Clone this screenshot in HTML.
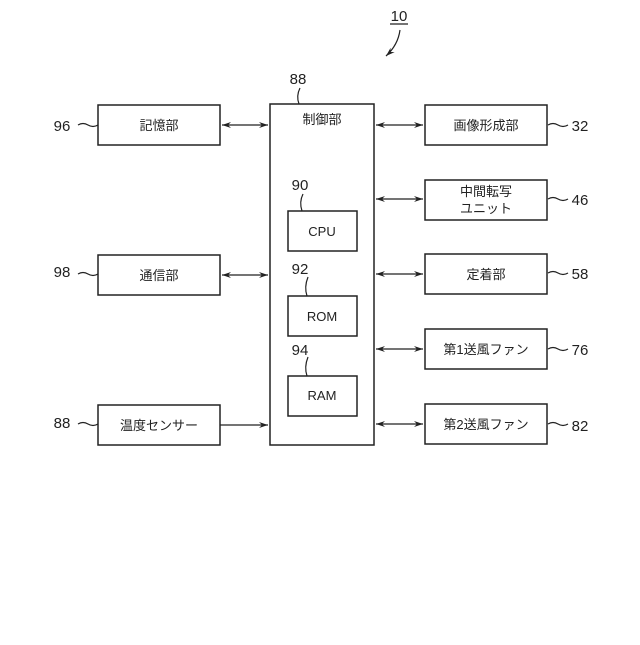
<!DOCTYPE html>
<html><head><meta charset="utf-8"><style>
html,body{margin:0;padding:0;background:#fff}
svg text{font-family:"Liberation Sans","Noto Sans CJK JP",sans-serif;fill:#222}
</style></head><body>
<svg width="640" height="640" viewBox="0 0 640 640" xmlns="http://www.w3.org/2000/svg">
<defs>
<marker id="a" markerWidth="10" markerHeight="8" refX="9" refY="4" orient="auto-start-reverse" markerUnits="userSpaceOnUse">
<path d="M0,1 L9,4 L0,7 L3,4 Z" fill="#222"/></marker>
</defs>
<g fill="none" stroke="#222" stroke-width="1.5">
<rect x="270" y="104" width="104" height="341"/>
<rect x="98" y="105" width="122" height="40"/>
<rect x="98" y="255" width="122" height="40"/>
<rect x="98" y="405" width="122" height="40"/>
<rect x="425" y="105" width="122" height="40"/>
<rect x="425" y="180" width="122" height="40"/>
<rect x="425" y="254" width="122" height="40"/>
<rect x="425" y="329" width="122" height="40"/>
<rect x="425" y="404" width="122" height="40"/>
<rect x="288" y="211" width="69" height="40"/>
<rect x="288" y="296" width="69" height="40"/>
<rect x="288" y="376" width="69" height="40"/>
</g>
<g stroke="#222" stroke-width="1.2" fill="none">
<line x1="222" y1="125" x2="268" y2="125" marker-start="url(#a)" marker-end="url(#a)"/>
<line x1="222" y1="275" x2="268" y2="275" marker-start="url(#a)" marker-end="url(#a)"/>
<line x1="220" y1="425" x2="268" y2="425" marker-end="url(#a)"/>
<line x1="376" y1="125" x2="423" y2="125" marker-start="url(#a)" marker-end="url(#a)"/>
<line x1="376" y1="199" x2="423" y2="199" marker-start="url(#a)" marker-end="url(#a)"/>
<line x1="376" y1="274" x2="423" y2="274" marker-start="url(#a)" marker-end="url(#a)"/>
<line x1="376" y1="349" x2="423" y2="349" marker-start="url(#a)" marker-end="url(#a)"/>
<line x1="376" y1="424" x2="423" y2="424" marker-start="url(#a)" marker-end="url(#a)"/>
<path d="M78,125 q5,-3 10,0 t10,0"/>
<path d="M78,274 q5,-3 10,0 t10,0"/>
<path d="M78,424 q5,-3 10,0 t10,0"/>
<path d="M548,125 q5,-3 10,0 t10,0"/>
<path d="M548,199 q5,-3 10,0 t10,0"/>
<path d="M548,273 q5,-3 10,0 t10,0"/>
<path d="M548,349 q5,-3 10,0 t10,0"/>
<path d="M548,424 q5,-3 10,0 t10,0"/>
<path d="M300,88 q-4,8 -1,16"/>
<path d="M303,194 q-4,8 -1,17"/>
<path d="M308,277 q-4,10 -1,19"/>
<path d="M308,357 q-4,10 -1,19"/>
<path d="M400,30 q-2,15 -14,26" marker-end="url(#a)"/>
<line x1="390" y1="24" x2="408" y2="24"/>
</g>
<g font-size="15" text-anchor="middle">
<text x="399" y="21">10</text>
<text x="298" y="84">88</text>
<text x="300" y="190">90</text>
<text x="300" y="274">92</text>
<text x="300" y="355">94</text>
<text x="62" y="131">96</text>
<text x="62" y="277">98</text>
<text x="62" y="428">88</text>
<text x="580" y="131">32</text>
<text x="580" y="205">46</text>
<text x="580" y="279">58</text>
<text x="580" y="355">76</text>
<text x="580" y="431">82</text>
</g>
<g font-size="13" text-anchor="middle">
<text x="159" y="130">記憶部</text>
<text x="159" y="280">通信部</text>
<text x="159" y="430">温度センサー</text>
<text x="322" y="124">制御部</text>
<text x="322" y="236">CPU</text>
<text x="322" y="321">ROM</text>
<text x="322" y="400">RAM</text>
<text x="486" y="130">画像形成部</text>
<text x="486" y="196">中間転写</text>
<text x="486" y="213">ユニット</text>
<text x="486" y="279">定着部</text>
<text x="486" y="354">第1送風ファン</text>
<text x="486" y="429">第2送風ファン</text>
</g>
</svg>
</body></html>
